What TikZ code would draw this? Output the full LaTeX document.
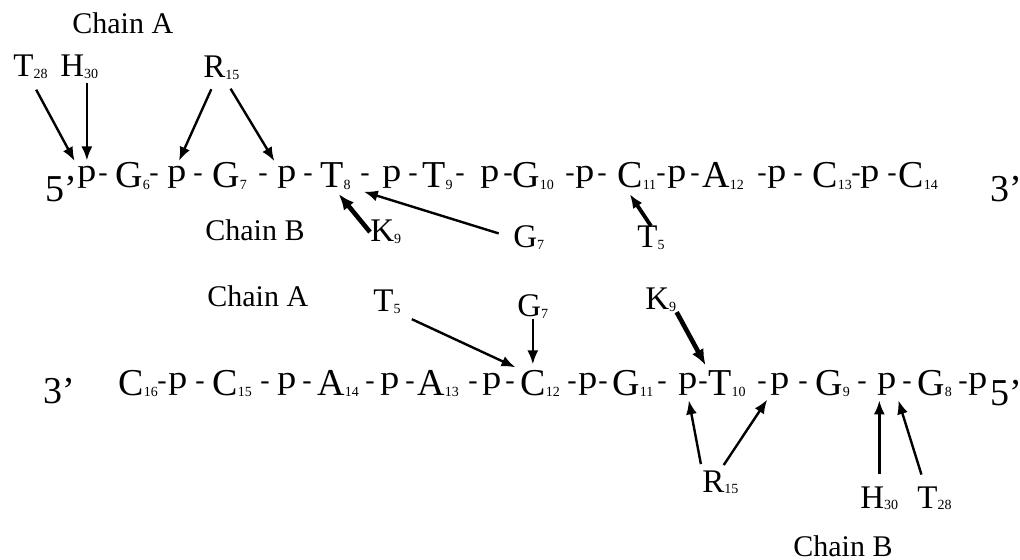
\documentclass[tikz,border=0pt]{standalone}
\usepackage{fontspec}
\setmainfont{Liberation Serif}
\usetikzlibrary{arrows.meta,positioning,calc}
\newcommand{\sbs}[1]{\raisebox{-0.8pt}{\fontsize{7}{8}\selectfont #1}}
\newcommand{\pp}{\raisebox{\depth}{\scalebox{1}[0.85]{p}}}
\tikzset{
  seqtext/.style={anchor=base west, inner sep=0pt, font=\fontsize{19}{22}\selectfont},
  seqdash/.style={seqtext, font=\fontsize{14}{16}\selectfont},
  labtext/.style={anchor=base west, inner sep=0pt, font=\fontsize{16.5}{20}\selectfont},
  chaintext/.style={anchor=base west, inner sep=0pt, font=\fontsize{15}{18}\selectfont},
  arrowline/.style={-{Latex[length=7pt,width=5.5pt]}, line width=1.2pt, shorten >=2.5pt},
  heavyline/.style={arrowline, -{Latex[length=8pt,width=6.5pt]}, line width=2.3pt}
}

\begin{document}
\begin{tikzpicture}[x=0.5pt, y=-0.5pt]
  \useasboundingbox (0,0) rectangle (1020,560);

  % upper duplex strand
  \node[seqtext] (fivea) at (45,202) {5’};
  \foreach \x/\t/\n in {77/\pp/pa1, 115/G\sbs{6}/ga6, 167/\pp/pa2, 212/G\sbs{7}/ga7,
      277/\pp/pa3, 320/T\sbs{8}/ta8, 382/\pp/pa4, 422/T\sbs{9}/ta9, 480/\pp/pa5,
      512/G\sbs{10}/ga10, 575/\pp/pa6, 617/C\sbs{11}/ca11, 667/\pp/pa7, 702/A\sbs{12}/aa12,
      767/\pp/pa8, 812/C\sbs{13}/ca13, 860/\pp/pa9, 898/C\sbs{14}/ca14}
    \node[seqtext] (\n) at (\x,188) {\t};
  \foreach \x [count=\i] in {98,149,193,258,303,360,408,455,503,565,597,656,690,757,793,851,887}
    \node[seqdash] (da\i) at (\x,188) {\raisebox{3pt}{-}};
  \node[seqtext] (threea) at (990,202) {3’};

  % lower duplex strand
  \node[seqtext] (threeb) at (43,403) {3’};
  \foreach \x/\t/\n in {118/C\sbs{16}/cb16, 168/\pp/pb1, 212/C\sbs{15}/cb15, 277/\pp/pb2,
      317/A\sbs{14}/ab14, 380/\pp/pb3, 417/A\sbs{13}/ab13, 482/\pp/pb4, 520/C\sbs{12}/cb12,
      578/\pp/pb5, 612/G\sbs{11}/gb11, 678/\pp/pb6, 708/T\sbs{10}/tb10, 770/\pp/pb7,
      815/G\sbs{9}/gb9, 877/\pp/pb8, 917/G\sbs{8}/gb8, 968/\pp/pb9}
    \node[seqtext] (\n) at (\x,395) {\t};
  \foreach \x [count=\i] in {157,195,260,302,365,405,468,505,567,598,657,698,757,798,857,902,958}
    \node[seqdash] (db\i) at (\x,395) {\raisebox{3pt}{-}};
  \node[seqtext] (fiveb) at (990,405) {5’};

  % contacts, upper strand
  \node[chaintext] (chaina1) at (72,34) {Chain A};
  \node[labtext] (t28a) at (13,77) {T\sbs{28}};
  \node[labtext] (h30a) at (60,77) {H\sbs{30}};
  \node[labtext] (r15a) at (203,78) {R\sbs{15}};
  \node[chaintext] (chainb1) at (205,241) {Chain B};
  \node[labtext] (k9a) at (370,242) {K\sbs{9}};
  \node[labtext] (g7a) at (513,248) {G\sbs{7}};
  \node[labtext] (t5a) at (637,248) {T\sbs{5}};

  \draw[arrowline, shorten <=6pt] (t28a.south) -- (pa1.north west);
  \draw[arrowline, shorten <=2pt] (pa1.north |- h30a.south) -- (pa1.north);
  \draw[arrowline, shorten <=5pt] ([xshift=-3pt]r15a.south) -- (pa2.north);
  \draw[arrowline, shorten <=5pt] ([xshift=2pt]r15a.south) -- (pa3.north west);
  \draw[heavyline] (k9a.west) -- (ta8.south);
  \draw[arrowline, shorten <=7.5pt] (g7a.west) -- ([xshift=4pt]ta8.south east);
  \draw[arrowline, line width=1.9pt] (t5a.north) -- ([xshift=5pt]ca11.south west);

  % contacts, lower strand
  \node[chaintext] (chaina2) at (207,307) {Chain A};
  \node[labtext] (t5b) at (373,312) {T\sbs{5}};
  \node[labtext] (g7b) at (517,317) {G\sbs{7}};
  \node[labtext] (k9b) at (645,310) {K\sbs{9}};
  \node[labtext] (r15b) at (702,492) {R\sbs{15}};
  \node[labtext] (h30b) at (860,508) {H\sbs{30}};
  \node[labtext] (t28b) at (917,508) {T\sbs{28}};
  \node[chaintext] (chainb2) at (793,556) {Chain B};

  \draw[arrowline, shorten <=6pt] (t5b.south east) -- (cb12.north west);
  \draw[arrowline] (g7b.south) -- (g7b.south |- cb12.north);
  \draw[heavyline] (k9b.south east) -- (tb10.north west);
  \draw[arrowline, shorten <=3pt] (r15b.north west) -- (pb6.south);
  \draw[arrowline, shorten <=3pt] (r15b.north) -- (pb7.south west);
  \draw[arrowline, shorten <=6pt] (h30b.north) -- (h30b.north |- pb8.south);
  \draw[arrowline, shorten <=6pt] ([xshift=4pt]t28b.north west) -- (pb8.south east);
\end{tikzpicture}
\end{document}
